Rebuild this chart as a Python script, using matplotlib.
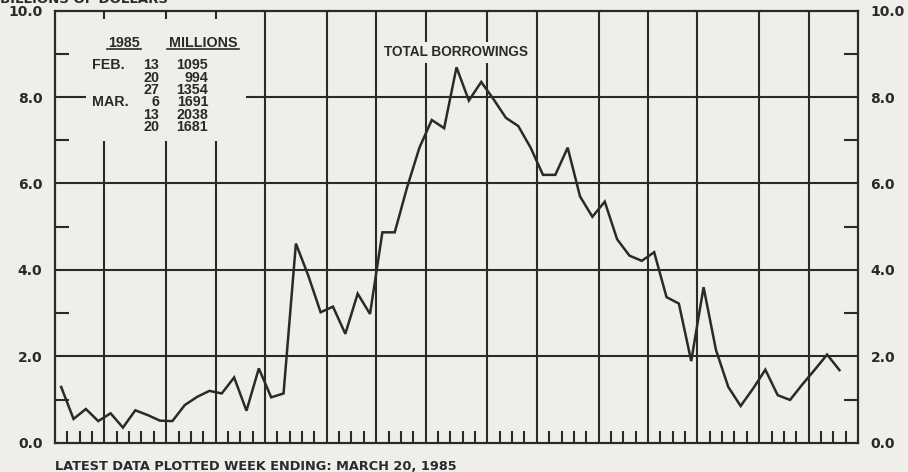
import numpy as np
import matplotlib.pyplot as plt
from matplotlib.patches import Rectangle

# weekly total borrowings, billions of dollars (week ending Jan 4 1984 .. Mar 20 1985)
borrowings = [1.29, 0.55, 0.78, 0.50, 0.68, 0.35, 0.75, 0.64, 0.51, 0.50,
              0.87, 1.06, 1.20, 1.14, 1.51, 0.74, 1.72, 1.05, 1.14, 4.61,
              3.87, 3.02, 3.15, 2.52, 3.45, 2.98, 4.87, 4.87, 5.91, 6.83,
              7.47, 7.28, 8.69, 7.92, 8.35, 7.95, 7.52, 7.33, 6.83, 6.20,
              6.20, 6.83, 5.70, 5.23, 5.58, 4.71, 4.33, 4.21, 4.41, 3.37,
              3.22, 1.89, 3.60, 2.15, 1.29, 0.85, 1.25, 1.69, 1.10, 0.99,
              1.35, 1.69, 2.04, 1.68]

# weeks in each month, Jan 1984 .. Mar 1985
month_weeks = [4, 5, 4, 4, 5, 4, 4, 5, 4, 5, 4, 4, 5, 4, 4]

y_ticks = [0, 2, 4, 6, 8, 10]
y_labels = ['0.0', '2.0', '4.0', '6.0', '8.0', '10.0']
y_minor = [1, 3, 5, 7, 9]

# inset table
table_months = ['FEB.', '', '', 'MAR.', '', '']
table_days = ['13', '20', '27', '6', '13', '20']
table_millions = ['1095', '994', '1354', '1691', '2038', '1681']

bg = '#efeeeb'
ink = '#2a2a2a'
bold = dict(family='DejaVu Sans', weight='bold', color=ink)
tbl = dict(family='Liberation Sans', weight='bold', color=ink, fontsize=10.3)

fig = plt.figure(figsize=(9.08, 4.72), dpi=100, facecolor=bg)
ax = fig.add_axes([55 / 908, 29.3 / 472, 803 / 908, 432 / 472])
ax.set_facecolor(bg)

n_weeks = sum(month_weeks)
ax.set_xlim(0, n_weeks)
ax.set_ylim(0, 10)

# month grid and horizontal grid
bounds = np.cumsum(month_weeks)[:-1]
ax.vlines(bounds, 0, 10, color=ink, lw=1.5, zorder=1)
ax.hlines(y_ticks[1:-1], 0, n_weeks, color=ink, lw=1.5, zorder=1)

for s in ax.spines.values():
    s.set_color(ink)
    s.set_linewidth(1.6)

# weekly ticks on the bottom
week_ticks = [w for w in range(1, n_weeks) if w not in bounds]
ax.set_xticks([])
ax.set_xticks(week_ticks, minor=True)
ax.tick_params(axis='x', which='minor', direction='in', length=9, width=1.5,
               color=ink, labelbottom=False)

ax.set_yticks(y_ticks, y_labels)
ax.set_yticks(y_minor, minor=True)
ax.tick_params(axis='y', which='major', length=0, pad=9, labelleft=True,
               labelright=True, labelsize=10)
ax.tick_params(axis='y', which='minor', direction='in', length=10, width=1.5,
               color=ink, left=True, right=True)
for lab in ax.get_yticklabels():
    lab.set_fontweight('bold')
    lab.set_color(ink)

x = np.arange(len(borrowings)) + 0.5
ax.plot(x, borrowings, color=ink, lw=1.8, zorder=3, solid_joinstyle='miter')

# table block
ax.add_patch(Rectangle((2.5, 6.98), 13.0, 2.82, facecolor=bg, edgecolor='none', zorder=2))
ax.text(5.6, 9.17, '1985', ha='center', va='baseline', zorder=4, **tbl)
ax.text(12.0, 9.17, 'MILLIONS', ha='center', va='baseline', zorder=4, **tbl)
ax.plot([4.2, 7.0], [9.12, 9.12], color=ink, lw=1.2, zorder=4)
ax.plot([9.1, 14.9], [9.12, 9.12], color=ink, lw=1.2, zorder=4)
for k in range(len(table_days)):
    yy = 8.64 - k * 0.284
    ax.text(3.0, yy, table_months[k], ha='left', va='baseline', zorder=4, **tbl)
    ax.text(8.42, yy, table_days[k], ha='right', va='baseline', zorder=4, **tbl)
    ax.text(12.4, yy, table_millions[k], ha='right', va='baseline', zorder=4, **tbl)

ax.text(32.5, 9.04, 'TOTAL BORROWINGS', ha='center', va='center', zorder=4,
        family='Liberation Sans', weight='bold', fontsize=9.8, color=ink,
        bbox=dict(facecolor=bg, edgecolor='none', pad=2.5))

fig.text(0.0, 1 - 3 / 472, 'BILLIONS OF DOLLARS', ha='left', va='baseline',
         fontsize=9.5, **bold)
fig.text(55 / 908, 2.5 / 472, 'LATEST DATA PLOTTED WEEK ENDING: MARCH 20, 1985',
         ha='left', va='baseline', fontsize=9.3, **bold)

fig.savefig('out.png', dpi=100, facecolor=bg)
